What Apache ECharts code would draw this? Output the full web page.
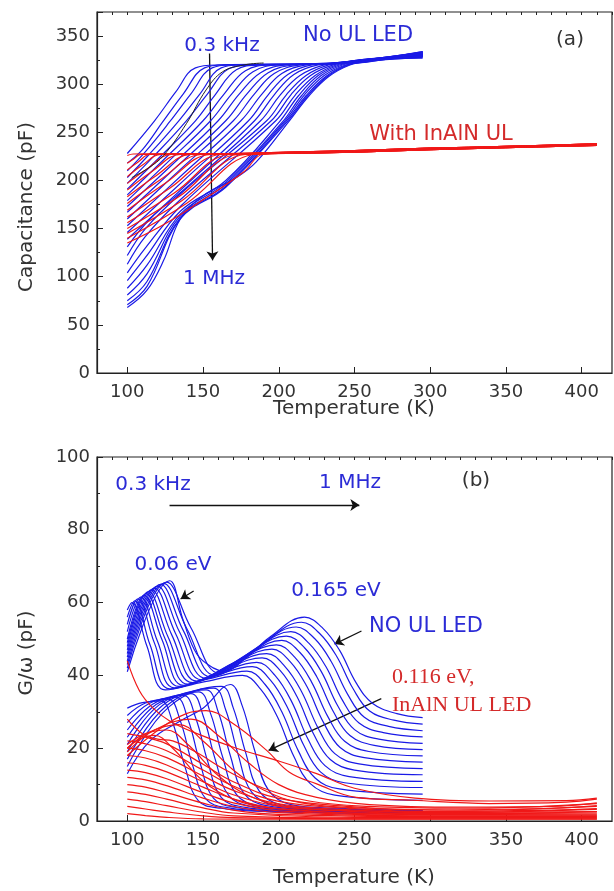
<!DOCTYPE html>
<html>
<head>
<meta charset="utf-8">
<script src="https://cdn.jsdelivr.net/npm/echarts@6/dist/echarts.min.js"></script>
<style>
  html, body { margin: 0; padding: 0; background: #fff; }
  #chart { width: 614px; height: 891px; }
</style>
</head>
<body>
<div id="chart"></div>
<script>
// ---- tick labels ----
var xTicks = [100, 150, 200, 250, 300, 350, 400];

// ---- (a) capacitance, No UL LED, one curve per frequency (0.3 kHz ... 1 MHz) ----
var capBlue = [
  [[100,228],[118,262],[132,292],[145,317],[160,320],[230,321],[255,324],[295,331]],
  [[100,218],[110,232],[123,260],[137,290],[151,317],[165,320],[230,321],[255,324],[295,330]],
  [[100,210],[112,230],[128,261],[142,290],[156,317],[170,320],[230,321],[255,324],[295,332]],
  [[100,203],[115,228],[134,262],[148,290],[162,317],[176,320],[230,321],[255,325],[295,329]],
  [[100,197],[118,226],[139,262],[153,290],[167,316],[182,320],[230,321],[255,325],[295,333]],
  [[100,191],[120,222],[145,262],[158,289],[172,315],[188,320],[230,321],[255,324],[295,328]],
  [[100,185],[123,220],[150,262],[164,290],[178,314],[195,320],[232,321],[256,325],[295,331]],
  [[100,179],[126,218],[155,262],[169,290],[183,313],[200,320],[232,321],[256,325],[295,327]],
  [[100,173],[128,214],[160,262],[174,290],[188,312],[205,320],[234,322],[257,325],[295,334]],
  [[100,167],[131,212],[165,262],[179,290],[193,312],[210,320],[234,322],[257,325],[295,330]],
  [[100,160],[134,210],[170,262],[184,290],[197,311],[214,320],[236,322],[258,326],[295,332]],
  [[100,153],[137,207],[175,262],[189,290],[202,311],[218,320],[238,322],[258,326],[295,329]],
  [[100,146],[140,204],[180,262],[193,289],[206,310],[222,320],[240,322],[260,326],[295,333]],
  [[100,139],[142,200],[184,262],[197,289],[210,310],[226,320],[242,322],[260,326],[295,331]],
  [[100,131],[115,160],[140,194],[188,262],[201,289],[214,309],[230,320],[245,323],[262,326],[295,328]],
  [[100,122],[112,150],[135,186],[192,262],[205,289],[218,309],[233,320],[247,323],[264,326],[295,332]],
  [[100,113],[112,142],[135,180],[195,262],[208,289],[221,309],[236,320],[249,323],[265,326],[295,330]],
  [[100,104],[112,130],[135,173],[198,262],[211,289],[224,309],[238,320],[250,323],[266,326],[295,334]],
  [[100,96],[112,120],[135,168],[165,200],[200,260],[213,288],[226,309],[240,320],[252,323],[268,327],[295,331]],
  [[100,88],[113,112],[135,165],[165,198],[202,260],[215,288],[228,309],[242,320],[253,323],[270,327],[295,329]],
  [[100,81],[113,103],[135,163],[165,196],[204,262],[217,289],[230,309],[244,320],[255,323],[272,327],[295,333]],
  [[100,75],[113,95],[135,161],[165,194],[205,262],[218,288],[231,308],[245,320],[256,323],[274,327],[295,330]],
  [[100,71],[113,90],[135,160],[165,193],[206,262],[219,288],[232,308],[246,320],[257,323],[276,327],[295,332]],
  [[100,68],[113,86],[124,117],[135,160],[150,184],[172,203],[185,219],[207,262],[220,288],[233,308],[247,320],[258,323],[278,327],[295,329]]
];

// ---- (a) capacitance, With InAlN UL ----
var capRed = [
  [[100,226],[104,227.5],[150,228],[195,228],[250,229.5],[300,232],[350,234],[410,236.5]],
  [[100,218],[104,222],[109,227],[150,227.5],[195,228.5],[250,230.5],[300,232.5],[350,234.5],[410,237.5]],
  [[100,211],[107,219],[115,227],[150,227.5],[195,229],[250,231],[300,233.5],[350,235.5],[410,238]],
  [[100,204],[110,216],[122,227],[160,227.5],[195,228],[250,229.5],[300,232],[350,234],[410,236.5]],
  [[100,197],[113,212],[129,227],[160,227.5],[195,228.5],[250,230.5],[300,232.5],[350,234.5],[410,237.5]],
  [[100,190],[116,209],[135,227],[160,227.5],[195,229],[250,231],[300,233.5],[350,235.5],[410,238]],
  [[100,183],[119,205],[142,227],[170,227.5],[195,228],[250,229.5],[300,232],[350,234],[410,236.5]],
  [[100,176],[122,201],[149,227],[170,227.5],[195,228.5],[250,230.5],[300,232.5],[350,234.5],[410,237.5]],
  [[100,169],[125,197],[155,227],[175,227.5],[195,229],[250,231],[300,233.5],[350,235.5],[410,238]],
  [[100,162],[128,192],[162,227],[180,227.5],[200,228],[250,229.5],[300,232],[350,234],[410,236.5]],
  [[100,156],[131,187],[168,227],[185,227.5],[200,228.5],[250,230.5],[300,232.5],[350,234.5],[410,237.5]],
  [[100,150],[134,183],[173,227],[188,227.5],[200,229],[250,231],[300,233.5],[350,235.5],[410,238]],
  [[100,145],[136,179],[178,227],[190,227.5],[205,228],[250,229.5],[300,232],[350,234],[410,236.5]],
  [[100,140],[139,176],[183,227],[195,228],[210,228.5],[250,230.5],[300,232.5],[350,234.5],[410,237.5]],
  [[100,135],[125,155],[152,182],[177,209],[189,227],[200,228],[215,229],[250,231],[300,233.5],[350,235.5],[410,238]]
];

// black guide curve in (a)
var capGuide = [[103,203],[114,213],[124,226],[139,259],[152,294],[163,313],[177,320],[190,322]];

// ---- (b) G/w, No UL LED: curves with both peaks (0.06 eV and 0.165 eV) ----
var gBlueHigh = [
  [[100,58],[103,60],[113,48],[125,36],[150.5,38.2],[176,40],[188,36.2],[199,28.7],[210,17.7],[221,10.2],[237,7.1],[295,5.7]],
  [[100,56],[105,60.5],[115,48.4],[128,36.3],[153.5,39],[179,41.2],[191,37.5],[202,30],[213,19.2],[224,11.8],[240,8.8],[295,7.4]],
  [[100,54],[107,61],[118,48.8],[131,36.6],[157,39.8],[182.5,42.4],[194.5,38.7],[205.5,31.4],[216.5,20.8],[227.5,13.5],[243.5,10.5],[295,9.2]],
  [[100,52],[109,61.5],[120,49.3],[134,37],[160,40.6],[185.5,43.6],[197.5,40],[208.5,32.8],[219.5,22.3],[230.5,15.2],[246.5,12.2],[295,10.9]],
  [[100,50],[111,62],[123,49.7],[137,37.3],[163,41.4],[189,44.8],[201,41.3],[212,34.2],[223,23.9],[234,16.9],[250,14],[295,12.7]],
  [[100,49],[112.5,62.5],[125,50],[140,37.6],[166,42.2],[192,46],[204,42.5],[215,35.6],[226,25.5],[237,18.5],[253,15.7],[295,14.4]],
  [[100,48],[114,63],[127,50.5],[143,38],[169,43.1],[195.5,47.2],[207.5,43.8],[218.5,37],[229.5,27.1],[240.5,20.2],[256.5,17.4],[295,16.2]],
  [[100,47],[116,63.5],[129.5,51],[146,38.4],[172,43.9],[198.5,48.4],[210.5,45],[221.5,38.3],[232.5,28.6],[243.5,21.9],[259.5,19.1],[295,17.9]],
  [[100,46],[118,64],[132,51.4],[149,38.8],[175.5,44.7],[202,49.6],[214,46.3],[225,39.7],[236,30.1],[247,23.5],[263,20.8],[295,19.6]],
  [[100,45],[120,64.5],[134.5,51.9],[152,39.2],[178.5,45.6],[205,50.8],[217,47.6],[228,41.1],[239,31.6],[250,25.1],[266,22.5],[295,21.3]],
  [[100,44],[122,65],[137,52.3],[155,39.6],[181.5,46.4],[208,52],[220,48.8],[231,42.5],[242,33.2],[253,26.9],[269,24.3],[295,23.1]],
  [[100,43],[124,65.3],[139.5,52.7],[158,40],[184.5,47.3],[211.5,53.3],[223.5,50.2],[234.5,43.9],[245.5,34.8],[256.5,28.5],[272.5,26],[295,24.8]],
  [[100,42],[126,65.6],[142,53.1],[161,40.6],[188,48.3],[215,54.6],[227,51.5],[238,45.4],[249,36.4],[260,30.2],[276,27.7],[295,26.6]],
  [[100,41],[128,66],[137,55],[146,45.8],[157,42],[164,41.2],[179,45],[194,50.5],[217,56],[229,53],[240,47],[251,38],[262,32.3],[278,29.5],[295,28.4]]
];

// ---- (b) G/w, No UL LED: low-frequency curves, single peak near 35 pF ----
var gBlueLow = [
  [[100,31],[110,32.5],[122,33],[130,27],[138,15],[147,5.5],[162,3.5],[192,2.6],[295,2]],
  [[100,29],[112,32.4],[127,33.5],[135,27.5],[143,15.5],[152,6],[167,3.6],[197,2.7],[295,2.1]],
  [[100,27],[114.4,32.3],[132,34],[140,28],[148,16],[157,6.2],[172,3.7],[202,2.8],[295,2.2]],
  [[100,25],[116.7,32.1],[137,34.5],[145,28.5],[153,16.5],[162,6.5],[177,3.8],[207,2.9],[295,2.3]],
  [[100,23],[119,32],[142,35],[150,29],[158,17],[167,7],[182,4],[212,3],[295,2.4]],
  [[100,21],[121,31.9],[147,35.5],[155,29.5],[163,17.5],[172,7.3],[187,4.1],[217,3.1],[295,2.5]],
  [[100,19],[123.4,31.8],[152,36],[160,30],[168,18],[177,7.6],[192,4.2],[222,3.2],[295,2.6]],
  [[100,17],[125.7,31.6],[157,36.5],[165,30.5],[173,18.5],[182,8],[197,4.3],[227,3.3],[295,2.7]],
  [[100,15],[127.9,31.5],[162,37],[170,31],[178,19],[187,8.3],[202,4.4],[232,3.4],[295,2.8]],
  [[100,13],[115,22],[135,27.5],[150,31],[168,37.5],[176,31.5],[184,19.5],[193,8.6],[208,4.5],[238,3.5],[295,2.9]]
];

// ---- (b) G/w, InAlN UL LED ----
var gRed = [
  [[100,2],[112,1.5],[126,1],[150,0.6],[200,0.5],[300,0.5],[410,0.5]],
  [[100,4],[112,3.3],[126,2.5],[150,1.4],[170,0.9],[250,0.6],[410,0.6]],
  [[100,6],[112,5.3],[126,4.2],[150,2.4],[170,1.4],[250,0.8],[410,0.8]],
  [[100,8],[112,7.3],[126,6],[150,3.6],[170,2.2],[250,1],[410,1]],
  [[100,10],[112,9.3],[126,7.8],[150,4.9],[170,3],[200,1.8],[300,1.2],[410,1.2]],
  [[100,12],[112,11.3],[126,9.7],[150,6.3],[170,4],[200,2.3],[300,1.4],[410,1.4]],
  [[100,14],[112,13.3],[126,11.6],[150,7.8],[170,5],[200,2.8],[300,1.6],[410,1.6]],
  [[100,16],[112,15.3],[126,13.5],[150,9.3],[170,6.1],[200,3.4],[300,1.8],[410,1.9]],
  [[100,18],[112,17.3],[126,15.4],[150,10.8],[170,7.2],[200,4],[250,2.6],[300,2],[410,2.2]],
  [[100,20],[112,19.3],[126,17.4],[150,12.4],[170,8.4],[200,4.7],[250,3],[300,2.3],[410,2.6]],
  [[100,22],[112,21.2],[126,19.3],[150,14],[170,9.6],[200,5.4],[250,3.4],[300,2.6],[380,3],[410,3.4]],
  [[100,24],[112,23],[126,21.2],[150,15.6],[170,10.8],[200,6.2],[250,3.9],[300,3],[380,3.5],[410,4.2]],
  [[100,44],[108,35.8],[117,31],[128,27.5],[146,24],[172,20],[199,16.6],[225,13],[250,9],[290,6.3],[340,5.5],[390,5.6],[410,6.3]],
  [[100,28],[110,24],[120,22.5],[130,22],[145,19],[165,14],[190,9],[220,5.5],[260,4],[320,3.5],[410,4.8]],
  [[100,20],[108,22.5],[118,23.5],[130,20],[150,11],[170,6],[195,3.5],[240,2.3],[320,2],[410,2.6]],
  [[100,21],[112,24],[126,25],[140,21],[160,12.5],[180,7],[205,4],[250,2.8],[330,2.5],[410,3.2]],
  [[100,20],[115,24.5],[134,26.5],[150,22],[170,14],[190,8.5],[215,5],[260,3.5],[330,3],[410,4]],
  [[100,19],[118,25],[142,28],[160,23.5],[180,16],[200,10],[225,6.5],[260,4.5],[320,3.8],[380,4],[410,5]],
  [[100,18],[122,25.5],[139,29.5],[152,30.3],[170,26.7],[192,19.4],[207,13.4],[225,10.2],[251,6.5],[288,5.7],[339,4.8],[390,5.2],[410,6]]
];

// arrows (data coordinates)
var capArrows = [[[154.3,332],[156.3,117]]];
var gArrows = [
  [[127.9,86.8],[253.2,86.8]],
  [[143.8,63.2],[135.2,61]],
  [[254.6,52.2],[236.8,48.6]],
  [[267.7,33.6],[193.3,19.4]]
];

var BLUE = '#1a1ae6', RED = '#f01818', AXIS = '#222', TXT = '#333';
var SANS = 'DejaVu Sans';

function curves(list, color, xi, yi, w) {
  return list.map(function (d) {
    return {
      type: 'line', xAxisIndex: xi, yAxisIndex: yi, data: d,
      smooth: 0.4, showSymbol: false, symbol: 'none', silent: true,
      lineStyle: { color: color, width: w || 1.2 }
    };
  });
}

function arrows(list, xi, yi) {
  return {
    type: 'lines', coordinateSystem: 'cartesian2d', xAxisIndex: xi, yAxisIndex: yi,
    symbol: ['none', 'arrow'], symbolSize: 9, silent: true,
    lineStyle: { color: '#111', width: 1.3, opacity: 1 },
    data: list.map(function (c) { return { coords: c }; })
  };
}

function xAxes(gi) {
  return [{
    type: 'value', gridIndex: gi, min: 80, max: 420,
    axisLine: { show: true, lineStyle: { color: AXIS, width: 1.2 } },
    axisTick: { show: true, inside: true, length: 6, customValues: xTicks, lineStyle: { color: AXIS } },
    axisLabel: { customValues: xTicks, fontFamily: SANS, fontSize: 18, color: TXT, margin: 10 },
    splitLine: { show: false }
  }, {
    type: 'value', gridIndex: gi, min: 80, max: 420, interval: 10,
    axisLine: { show: false },
    axisTick: { show: true, inside: true, length: 3, lineStyle: { color: AXIS } },
    axisLabel: { show: false }, splitLine: { show: false }
  }];
}

function yAxis(gi, max, step) {
  return {
    type: 'value', gridIndex: gi, min: 0, max: max, interval: step,
    axisLine: { show: true, lineStyle: { color: AXIS, width: 1.2 } },
    axisTick: { show: true, inside: true, length: 6, lineStyle: { color: AXIS } },
    minorTick: { show: true, splitNumber: 2, length: 3, lineStyle: { color: AXIS } },
    axisLabel: { fontFamily: SANS, fontSize: 18, color: TXT, margin: 7,
      showMaxLabel: max % step === 0 },
    splitLine: { show: false }
  };
}

function label(text, x, y, color, font, align) {
  return {
    type: 'text', x: x, y: y, silent: true,
    style: { text: text, font: font, fill: color,
      align: align || 'center', verticalAlign: 'middle',
      textAlign: align || 'center', textVerticalAlign: 'middle' }
  };
}

var chart = echarts.init(document.getElementById('chart'), null, { renderer: 'canvas' });

var series = []
  .concat(curves(capBlue, BLUE, 0, 0))
  .concat(curves(capRed, RED, 0, 0))
  .concat(curves([capGuide], '#222', 0, 0, 1))
  .concat(curves(gBlueLow, BLUE, 2, 1))
  .concat(curves(gBlueHigh, BLUE, 2, 1))
  .concat(curves(gRed, RED, 2, 1))
  .concat([arrows(capArrows, 0, 0), arrows(gArrows, 2, 1)]);

var f20 = '20px "' + SANS + '"';
var f21 = '21px "' + SANS + '"';
var serif = '22px "Liberation Serif"';
var ANN = '#2b2bd6', ANNR = '#d42a2a';

chart.setOption({
  animation: false,
  backgroundColor: '#fff',
  grid: [
    { left: 97, top: 12, width: 515, height: 361, show: true, borderColor: AXIS, borderWidth: 1.2 },
    { left: 97, top: 457, width: 515, height: 364, show: true, borderColor: AXIS, borderWidth: 1.2 }
  ],
  xAxis: xAxes(0).concat(xAxes(1)),
  yAxis: [yAxis(0, 375, 50), yAxis(1, 100, 20)],
  series: series,
  graphic: [
    label('Capacitance (pF)', 27, 207, TXT, f20),
    label('Temperature (K)', 354, 409, TXT, f20),
    label('G/\u03c9 (pF)', 27, 653, TXT, f20),
    label('Temperature (K)', 354, 878, TXT, f20),
    label('0.3 kHz', 222, 46, ANN, f20),
    label('No UL LED', 358, 36, ANN, f21),
    label('(a)', 570, 40, TXT, f20),
    label('With InAlN UL', 441, 135, ANNR, f21),
    label('1 MHz', 214, 279, ANN, f20),
    label('0.3 kHz', 153, 485, ANN, f20),
    label('1 MHz', 350, 483, ANN, f20),
    label('(b)', 476, 481, TXT, f20),
    label('0.06 eV', 173, 565, ANN, f20),
    label('0.165 eV', 336, 591, ANN, f20),
    label('NO UL LED', 426, 627, ANN, f21),
    label('0.116 eV,', 392, 677, ANNR, serif, 'left'),
    label('InAlN UL LED', 392, 705, ANNR, serif, 'left')
  ]
});
// rotate the two y titles
var opt = chart.getOption();
var g = opt.graphic[0].elements;
g[0].rotation = Math.PI / 2;
g[2].rotation = Math.PI / 2;
chart.setOption({ graphic: g });
</script>
</body>
</html>
